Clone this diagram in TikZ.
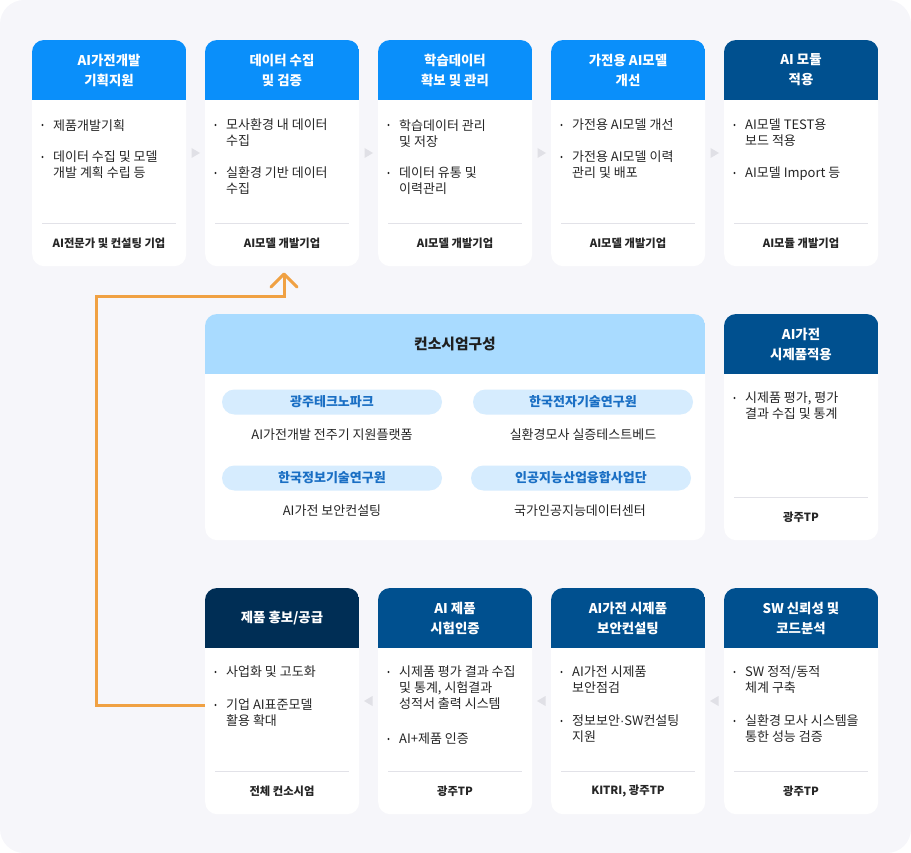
\documentclass[tikz,border=0pt]{standalone}
\usepackage{fontspec}
\setmainfont{Noto Sans CJK KR}
\newfontfamily\latinfont{Liberation Sans}
\usetikzlibrary{calc}
\definecolor{bgc}{HTML}{F6F6FA}
\definecolor{hblue}{HTML}{0A8FFA}
\definecolor{hdark}{HTML}{00508F}
\definecolor{hdeep}{HTML}{002E55}
\definecolor{hlight}{HTML}{A9DBFF}
\definecolor{pillc}{HTML}{D6ECFE}
\definecolor{pilltxt}{HTML}{1A6FC4}
\definecolor{bodyc}{HTML}{262626}
\definecolor{sepc}{HTML}{E2E2E8}
\definecolor{tric}{HTML}{E0E0E6}
\definecolor{orangec}{HTML}{F0A143}
\tikzset{
  cardbg/.style={fill=white, rounded corners=12pt, minimum width=154pt, minimum height=226pt, inner sep=0pt, draw=none},
  headtxt/.style={text=white, font=\fontsize{13.4}{20}\selectfont\bfseries, align=center, inner sep=0pt},
  bodytxt/.style={text=bodyc, font=\fontsize{13}{16}\selectfont, align=left, inner sep=0pt},
  foottxt/.style={text=black!85, font=\fontsize{11.3}{13}\selectfont\bfseries, inner sep=0pt},
  pill/.style={fill=pillc, rounded corners=12.5pt, minimum width=220pt, minimum height=25pt, inner sep=0pt, text=pilltxt, font=\fontsize{13}{15}\selectfont\bfseries},
  midtxt/.style={text=bodyc, font=\fontsize{13}{15}\selectfont, inner sep=0pt},
  tri/.style={fill=tric},
}
% card: name, left x, top y, header colour, header text, footer text
\newcommand\mkcard[6]{%
  \node[cardbg, anchor=north west] (#1) at (#2,#3) {};
  \begin{scope}
    \clip[rounded corners=12pt] (#1.north west) rectangle (#1.south east);
    \fill[#4] (#1.north west) rectangle ([yshift=-60pt]#1.north east);
  \end{scope}
  \node[headtxt] (#1h) at (#2+77,#3+30) {#5};
  \draw[sepc, line width=0.8pt] (#2+10,#3+183) -- (#2+144,#3+183);
  \node[foottxt] (#1f) at (#2+77,#3+203) {#6};
}
% bullet: name, card left x, centre y of first line, text
\newcommand\mkbul[4]{%
  \fill[bodyc] (#2+10.5,#3) circle (1.2pt);
  \node[bodytxt, anchor=north west] (#1) at (#2+21,#3-6) {#4};
}
\begin{document}
\begin{tikzpicture}[x=1pt,y=-1pt]
\useasboundingbox (0,0) rectangle (911,853);
\fill[bgc, rounded corners=24pt] (0,0) rectangle (911,853);

% top row
\mkcard{t1}{32}{40}{hblue}{AI가전개발\\기획지원}{AI전문가 및 컨설팅 기업}
\mkbul{t1a}{32}{125}{제품개발기획}
\mkbul{t1b}{32}{157}{데이터 수집 및 모델\\개발 계획 수립 등}

\mkcard{t2}{205}{40}{hblue}{데이터 수집\\및 검증}{AI모델 개발기업}
\mkbul{t2a}{205}{125}{모사환경 내 데이터\\수집}
\mkbul{t2b}{205}{173}{실환경 기반 데이터\\수집}

\mkcard{t3}{378}{40}{hblue}{학습데이터\\확보 및 관리}{AI모델 개발기업}
\mkbul{t3a}{378}{125}{학습데이터 관리\\및 저장}
\mkbul{t3b}{378}{173}{데이터 유통 및\\이력관리}

\mkcard{t4}{551}{40}{hblue}{가전용 AI모델\\개선}{AI모델 개발기업}
\mkbul{t4a}{551}{125}{가전용 AI모델 개선}
\mkbul{t4b}{551}{157}{가전용 AI모델 이력\\관리 및 배포}

\mkcard{t5}{724}{40}{hdark}{AI 모듈\\적용}{AI모듈 개발기업}
\mkbul{t5a}{724}{125}{AI모델 TEST용\\보드 적용}
\mkbul{t5b}{724}{173}{AI모델 Import 등}

% top triangles
\foreach \gx in {195.5,368.5,541.5,714.5}
  \fill[tri] (\gx-4,148) -- (\gx+4.5,153) -- (\gx-4,158) -- cycle;

% middle consortium box
\node[fill=white, rounded corners=12pt, minimum width=500pt, minimum height=226pt, inner sep=0pt, anchor=north west] (mb) at (205,314) {};
\begin{scope}
  \clip[rounded corners=12pt] (mb.north west) rectangle (mb.south east);
  \fill[hlight] (mb.north west) rectangle ([yshift=-60pt]mb.north east);
\end{scope}
\node[text=black!88, font=\fontsize{14.8}{17}\selectfont\bfseries, inner sep=0pt] (mbt) at (455,344) {컨소시엄구성};
\node[pill] (p1) at (332,402) {광주테크노파크};
\node[pill] (p2) at (583,402) {한국전자기술연구원};
\node[pill] (p3) at (332,478) {한국정보기술연구원};
\node[pill] (p4) at (581,478) {인공지능산업융합사업단};
\node[midtxt] (p1t) at (332,435) {AI가전개발 전주기 지원플랫폼};
\node[midtxt] (p2t) at (583,435) {실환경모사 실증테스트베드};
\node[midtxt] (p3t) at (332,511) {AI가전 보안컨설팅};
\node[midtxt] (p4t) at (580,511) {국가인공지능데이터센터};

% middle right card
\mkcard{m1}{724}{314}{hdark}{AI가전\\시제품적용}{광주TP}
\mkbul{m1a}{724}{398}{시제품 평가, 평가\\결과 수집 및 통계}

% bottom row
\mkcard{b1}{205}{588}{hdeep}{제품 홍보/공급}{전체 컨소시엄}
\mkbul{b1a}{205}{672}{사업화 및 고도화}
\mkbul{b1b}{205}{705}{기업 AI표준모델\\활용 확대}

\mkcard{b2}{378}{588}{hdark}{AI 제품\\시험인증}{광주TP}
\mkbul{b2a}{378}{672}{시제품 평가 결과 수집\\및 통계, 시험결과\\성적서 출력 시스템}
\mkbul{b2b}{378}{739}{AI+제품 인증}

\mkcard{b3}{551}{588}{hdark}{AI가전 시제품\\보안컨설팅}{KITRI, 광주TP}
\mkbul{b3a}{551}{672}{AI가전 시제품\\보안점검}
\mkbul{b3b}{551}{721}{정보보안{\latinfont·}SW컨설팅\\지원}

\mkcard{b4}{724}{588}{hdark}{SW 신뢰성 및\\코드분석}{광주TP}
\mkbul{b4a}{724}{672}{SW 정적/동적\\체계 구축}
\mkbul{b4b}{724}{721}{실환경 모사 시스템을\\통한 성능 검증}

% bottom triangles (pointing left)
\foreach \gx in {368.5,541.5,714.5}
  \fill[tri] (\gx+4,696) -- (\gx-4.5,701) -- (\gx+4,706) -- cycle;

% orange feedback arrow
\coordinate (oa) at (96,705);
\coordinate (ob) at (96,297);
\coordinate (oc) at (284,297);
\coordinate (tip) at (284,274);
\draw[orangec, line width=3pt, line join=miter] (b1.west |- oa) -- (oa) -- (ob) -- (oc) -- (tip);
\draw[orangec, line width=3pt, line cap=round, line join=round] (271,287) -- (tip) -- (297,287);
\end{tikzpicture}
\end{document}
